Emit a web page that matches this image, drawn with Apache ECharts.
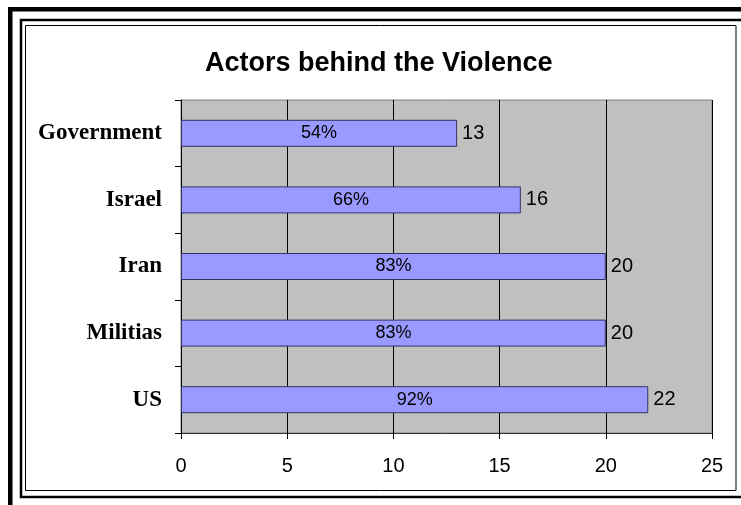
<!DOCTYPE html>
<html>
<head>
<meta charset="utf-8">
<script src="https://cdn.jsdelivr.net/npm/echarts@6/dist/echarts.min.js"></script>
<style>
    html, body { margin: 0; padding: 0; background: #fff; }
    #chart { width: 741px; height: 505px; }
</style>
</head>
<body>
<div id="chart"></div>
<script>
// categories top to bottom
const actors = ['Government', 'Israel', 'Iran', 'Militias', 'US'];
// number of mentions per actor
const counts = [13, 16, 20, 20, 22];
// share shown inside each bar
const shares = ['54%', '66%', '83%', '83%', '92%'];
const xTicks = [0, 5, 10, 15, 20, 25];

let myChart = echarts.init(document.getElementById('chart'));

let option = {
    backgroundColor: '#fff',
    animation: false,
    title: {
        text: 'Actors behind the Violence',
        left: 200,
        top: 45,
        textStyle: {
            fontFamily: 'Liberation Sans',
            fontWeight: 'bold',
            fontSize: 27,
            color: '#000'
        }
    },
    // page border + double chart frame
    graphic: [
        {type: 'rect', shape: {x: 8, y: 7, width: 740, height: 4.5}, style: {fill: '#000'}},
        {type: 'rect', shape: {x: 8, y: 7, width: 4.5, height: 505}, style: {fill: '#000'}},
        {type: 'rect', shape: {x: 21, y: 20, width: 760, height: 477}, style: {fill: 'none', stroke: '#000', lineWidth: 2.5}},
        {type: 'rect', shape: {x: 25.5, y: 25.5, width: 710.5, height: 465}, style: {fill: 'none', stroke: '#000', lineWidth: 1}}
    ],
    grid: {
        left: 181,
        right: 29,
        top: 100,
        bottom: 72,
        show: true,
        backgroundColor: '#C0C0C0',
        borderColor: '#808080',
        borderWidth: 1
    },
    xAxis: {
        type: 'value',
        min: xTicks[0],
        max: xTicks[xTicks.length - 1],
        interval: xTicks[1] - xTicks[0],
        axisLine: {show: true, lineStyle: {color: '#333', width: 1}},
        axisTick: {show: true, length: 6, lineStyle: {color: '#000'}},
        splitLine: {show: true, lineStyle: {color: '#000', width: 1}},
        axisLabel: {
            margin: 23,
            fontFamily: 'Liberation Sans',
            fontSize: 20,
            color: '#000'
        }
    },
    yAxis: {
        type: 'category',
        inverse: true,
        data: actors,
        axisLine: {show: true, lineStyle: {color: '#000', width: 1}},
        axisTick: {show: true, length: 6, lineStyle: {color: '#000'}},
        axisLabel: {
            margin: 19,
            fontFamily: 'Liberation Serif',
            fontWeight: 'bold',
            fontSize: 23,
            color: '#000'
        }
    },
    series: [
        {
            name: 'Count',
            type: 'bar',
            barWidth: 27,
            data: counts,
            itemStyle: {
                color: '#9999FF',
                borderColor: '#333366',
                borderWidth: 1
            },
            label: {
                show: true,
                position: 'right',
                distance: 5,
                fontFamily: 'Liberation Sans',
                fontSize: 20,
                color: '#000'
            }
        },
        {
            name: 'Share',
            type: 'bar',
            barWidth: 27,
            barGap: '-100%',
            data: counts,
            silent: true,
            itemStyle: {color: 'rgba(0,0,0,0)'},
            label: {
                show: true,
                position: 'inside',
                formatter: p => shares[p.dataIndex],
                fontFamily: 'Liberation Sans',
                fontSize: 18,
                color: '#000'
            }
        }
    ]
};

myChart.setOption(option);
</script>
</body>
</html>
